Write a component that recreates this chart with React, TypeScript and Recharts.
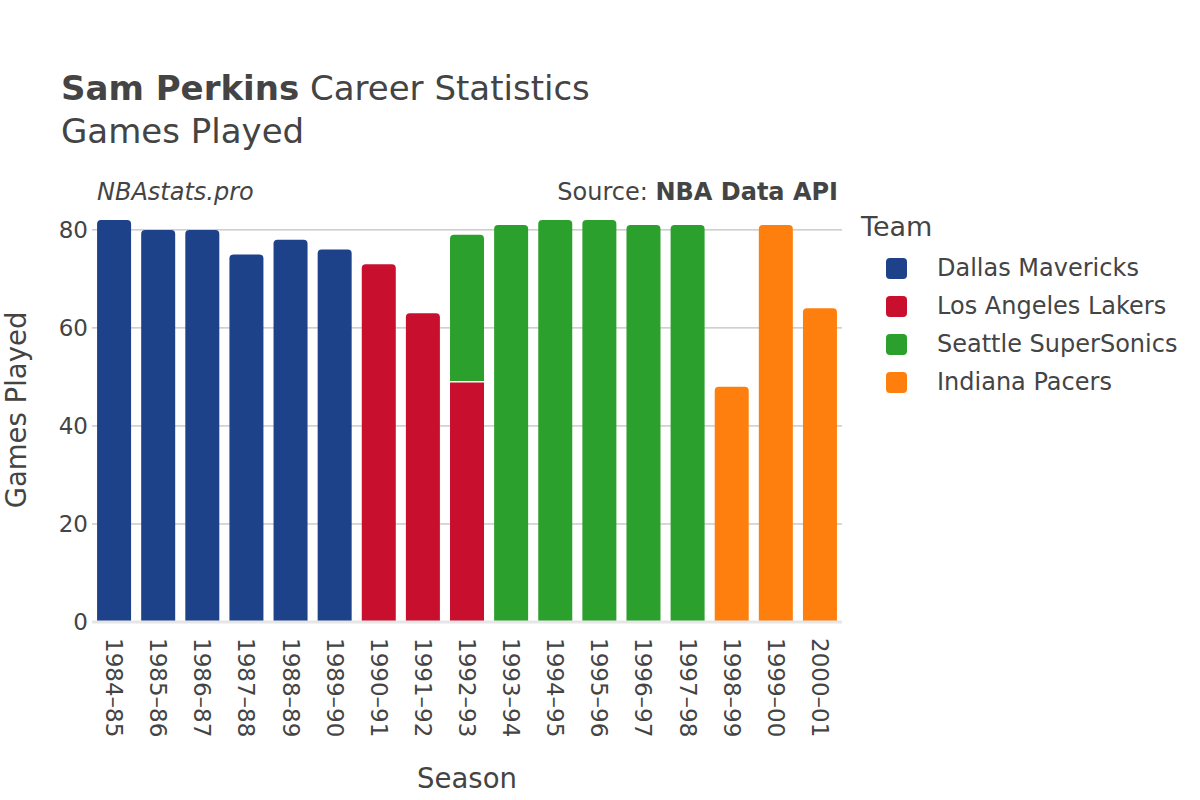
import { useMemo } from 'react';
import { BarChart, Bar, XAxis, YAxis, CartesianGrid } from 'recharts';

const SEASONS = [
  '1984–85', '1985–86', '1986–87', '1987–88', '1988–89', '1989–90', '1990–91', '1991–92',
  '1992–93', '1993–94', '1994–95', '1995–96', '1996–97', '1997–98', '1998–99', '1999–00', '2000–01',
];

const DALLAS = [82, 80, 80, 75, 78, 76, null, null, null, null, null, null, null, null, null, null, null];
const LAKERS = [null, null, null, null, null, null, 73, 63, 49, null, null, null, null, null, null, null, null];
const SEATTLE = [null, null, null, null, null, null, null, null, 30, 81, 82, 82, 81, 81, null, null, null];
const INDIANA = [null, null, null, null, null, null, null, null, null, null, null, null, null, null, 48, 81, 64];

const Y_TICKS = [0, 20, 40, 60, 80];
const GRID_VALUES = [20, 40, 60, 80];

const TEAMS = [
  { key: 'dal', name: 'Dallas Mavericks', color: '#1d428a', values: DALLAS },
  { key: 'lal', name: 'Los Angeles Lakers', color: '#c8102e', values: LAKERS },
  { key: 'sea', name: 'Seattle SuperSonics', color: '#2ca02c', values: SEATTLE },
  { key: 'ind', name: 'Indiana Pacers', color: '#ff7f0e', values: INDIANA },
];

const FONT = '"DejaVu Sans", Verdana, sans-serif';
const TEXT = '#444';

function makeShape(teamIdx: number) {
  return (props: any) => {
    const { x, y, width, height, index, fill } = props;
    if (!height || height <= 0) return <g />;
    // top segment of a stack gets rounded corners
    const isTop = TEAMS.slice(teamIdx + 1).every((t) => t.values[index] == null);
    const hasBelow = TEAMS.slice(0, teamIdx).some((t) => t.values[index] != null);
    const r = isTop ? Math.min(4, height / 2) : 0;
    const d = `M${x},${y + height} L${x},${y + r} Q${x},${y} ${x + r},${y} L${x + width - r},${y} Q${x + width},${y} ${x + width},${y + r} L${x + width},${y + height} Z`;
    return (
      <g>
        <path d={d} fill={fill} />
        {hasBelow && (
          <line x1={x} x2={x + width} y1={y + height} y2={y + height} stroke="#fff" strokeWidth={1.5} />
        )}
      </g>
    );
  };
}

const SeasonTick = ({ x, y, payload }: any) => (
  <text
    transform={`translate(${x},${y + 16}) rotate(90)`}
    textAnchor="start"
    dominantBaseline="central"
    fontSize={23}
    fontFamily={FONT}
    fill={TEXT}
  >
    {payload.value}
  </text>
);

const TeamLegend = () => (
  <div style={{ position: 'absolute', left: 861, top: 211, fontFamily: FONT, color: TEXT }}>
    <div style={{ fontSize: 27, lineHeight: '32px', marginBottom: 6 }}>Team</div>
    {TEAMS.map((t) => (
      <div key={t.key} style={{ display: 'flex', alignItems: 'center', height: 38, fontSize: 24, whiteSpace: 'nowrap' }}>
        <span
          style={{
            display: 'inline-block',
            width: 21,
            height: 21,
            borderRadius: 4,
            background: t.color,
            marginLeft: 25,
            marginRight: 30,
          }}
        />
        {t.name}
      </div>
    ))}
  </div>
);

export default function App() {
  const data = useMemo(
    () =>
      SEASONS.map((season, i) => {
        const row: Record<string, any> = { season };
        TEAMS.forEach((t) => {
          row[t.key] = t.values[i];
        });
        return row;
      }),
    []
  );

  return (
    <div style={{ position: 'absolute', left: 0, top: 0, width: 1200, height: 800, background: '#fff' }}>
      <BarChart
        width={1200}
        height={800}
        data={data}
        margin={{ top: 199, right: 358, bottom: 0, left: 0 }}
        barCategoryGap="11.5%"
      >
        <CartesianGrid vertical={false} horizontalValues={GRID_VALUES} stroke="#b0b0b0" strokeWidth={1} />
        <XAxis
          dataKey="season"
          height={178}
          interval={0}
          tickLine={false}
          tickSize={0}
          tickMargin={0}
          axisLine={{ stroke: '#e6e6e6', strokeWidth: 3 }}
          tick={<SeasonTick />}
        />
        <YAxis
          width={92}
          domain={[0, 86.3]}
          ticks={Y_TICKS}
          axisLine={false}
          tickLine={false}
          tickSize={0}
          tickMargin={4}
          tick={{ fontSize: 23, fontFamily: FONT, fill: TEXT }}
        />
        {TEAMS.map((t, i) => (
          <Bar
            key={t.key}
            dataKey={t.key}
            name={t.name}
            stackId="gp"
            fill={t.color}
            shape={makeShape(i)}
            isAnimationActive={false}
          />
        ))}
      </BarChart>
      <TeamLegend />
      <svg
        width={1200}
        height={800}
        style={{ position: 'absolute', left: 0, top: 0, pointerEvents: 'none' }}
        fontFamily={FONT}
        fill={TEXT}
      >
        <text x={61} y={100} fontSize={34}>
          <tspan fontWeight="bold">Sam Perkins</tspan> Career Statistics
        </text>
        <text x={61} y={143} fontSize={34}>
          Games Played
        </text>
        <text x={97} y={200} fontSize={24} fontStyle="italic">
          NBAstats.pro
        </text>
        <text x={838} y={200} fontSize={24} textAnchor="end">
          Source: <tspan fontWeight="bold">NBA Data API</tspan>
        </text>
        <text x={467} y={788} fontSize={27.5} textAnchor="middle">
          Season
        </text>
        <text transform="translate(26,410) rotate(-90)" fontSize={27.5} textAnchor="middle">
          Games Played
        </text>
      </svg>
    </div>
  );
}
